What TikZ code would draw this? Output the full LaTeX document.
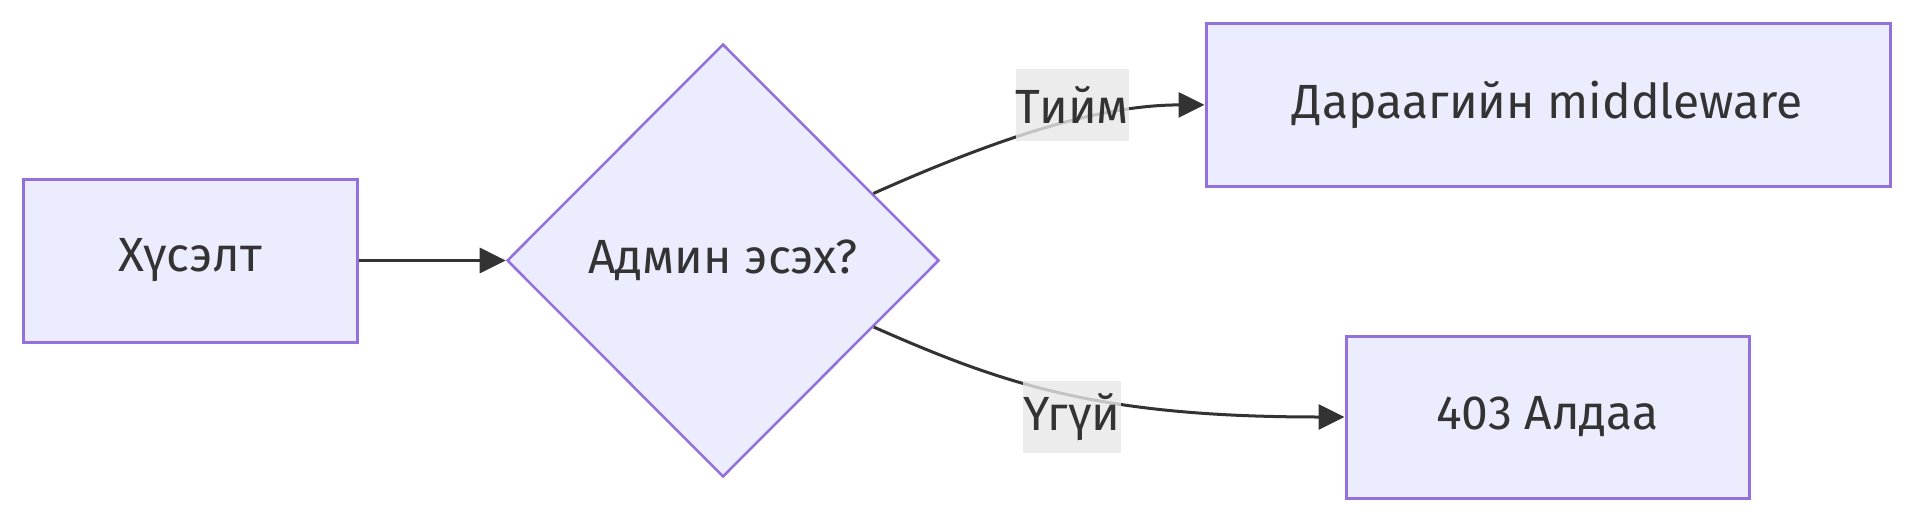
\documentclass[tikz,border=0pt]{standalone}
\usepackage{fontspec}
\setmainfont{Fira Sans}
\usetikzlibrary{shapes.geometric,arrows.meta}
\definecolor{nodefill}{HTML}{ECECFF}
\definecolor{nodeline}{HTML}{9370DB}
\definecolor{ink}{HTML}{333333}
\definecolor{lblbg}{HTML}{E8E8E8}
\begin{document}
\begin{tikzpicture}[x=1pt,y=-1pt,
  box/.style={rectangle,draw=nodeline,fill=nodefill,line width=3pt,text=ink,inner sep=0pt,
    font=\fontsize{48}{56}\selectfont},
  decision/.style={diamond,aspect=1,draw=nodeline,fill=nodefill,line width=2.5pt,text=ink,inner sep=0pt,
    minimum width=432pt,minimum height=433pt,font=\fontsize{48}{56}\selectfont},
  edge/.style={draw=ink,line width=3pt,-{Triangle[length=26pt,width=25pt]}},
  elabel/.style={rectangle,fill=lblbg,fill opacity=0.8,text opacity=1,text=ink,inner xsep=0pt,inner ysep=0pt,
    minimum height=72pt,font=\fontsize{48}{56}\selectfont}
]
\useasboundingbox (0,0) rectangle (1914,522);
\fill[white] (0,0) rectangle (1914,522);
\node[box,minimum width=334pt,minimum height=163pt] (req) at (190,260.5) {Хүсэлт};
\node[decision] (dec) at (723,260.5) {Админ эсэх?};
\node[box,minimum width=684pt,minimum height=163pt] (next) at (1548,104.5) {Дараагийн middleware};
\node[box,minimum width=403pt,minimum height=162pt] (err) at (1547.5,417) {403 Алдаа};
\draw[edge] (req) -- (dec);
\draw[edge] (dec) .. controls (1000,137) and (1100,105) .. (next);
\draw[edge] (dec) .. controls (1005,385) and (1100,417) .. (err);
\node[elabel] (yes) at (1072.5,105) {Тийм};
\node[elabel] (no) at (1072,417) {Үгүй};
\end{tikzpicture}
\end{document}
